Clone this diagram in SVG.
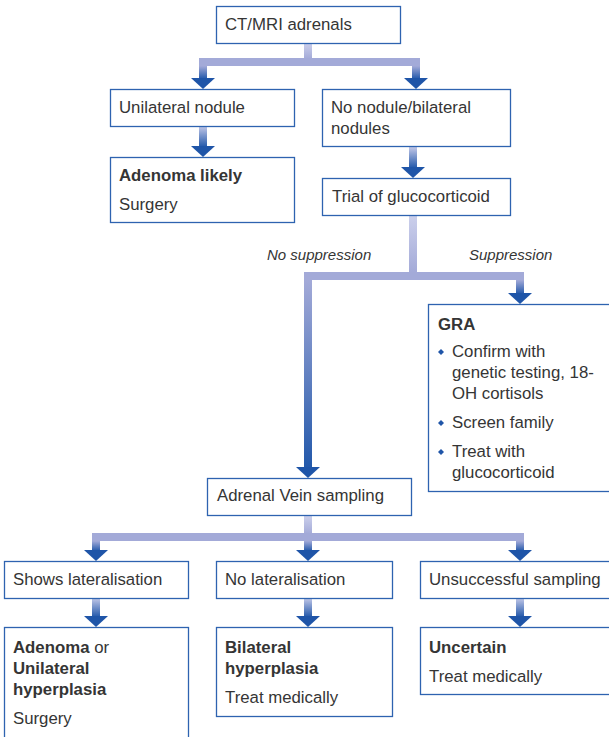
<svg xmlns="http://www.w3.org/2000/svg" width="609" height="737" viewBox="0 0 609 737">
<style>
.box{fill:#fff;stroke:#2e63b0;stroke-width:1.3}
text{font-family:"Liberation Sans",Arial,sans-serif;font-size:16.8px;fill:#353535}
.b{font-weight:bold}
.i{font-style:italic;font-size:15px}
.bar{fill:#a3aad8}
.ah{fill:#1f55a8}
.dia{fill:#1f55a8}
</style>
<defs>
<linearGradient id="gStem" x1="0" y1="0" x2="0" y2="1"><stop offset="0" stop-color="#cbcfeb"/><stop offset="1" stop-color="#a3aad8"/></linearGradient>
<linearGradient id="gDrop" x1="0" y1="0" x2="0" y2="1"><stop offset="0" stop-color="#a3aad8"/><stop offset="1" stop-color="#2258aa"/></linearGradient>
<linearGradient id="gFull" x1="0" y1="0" x2="0" y2="1"><stop offset="0" stop-color="#c3c8e8"/><stop offset="1" stop-color="#2258aa"/></linearGradient>
<path id="ah" d="M-12,-11 L12,-11 L0,0 Z"/>
<path id="dia" d="M0,-3 L3,0 L0,3 L-3,0 Z"/>
</defs>

<g id="connectors">
<!-- CT/MRI split -->
<rect x="304" y="43" width="8" height="16" fill="url(#gStem)"/>
<rect x="199" y="66" width="8" height="13" fill="url(#gDrop)"/>
<rect x="412" y="66" width="8" height="13" fill="url(#gDrop)"/>
<rect class="bar" x="199" y="58" width="221" height="8"/>
<use href="#ah" class="ah" x="203" y="89"/>
<use href="#ah" class="ah" x="416" y="89"/>
<!-- Unilateral -> Adenoma likely -->
<rect x="199" y="126" width="8" height="21" fill="url(#gFull)"/>
<use href="#ah" class="ah" x="203" y="157"/>
<!-- No nodule -> Trial -->
<rect x="409" y="147" width="8" height="21" fill="url(#gFull)"/>
<use href="#ah" class="ah" x="413" y="178"/>
<!-- Trial split -->
<rect x="409" y="216" width="8" height="57" fill="url(#gStem)"/>
<rect x="304" y="280" width="8" height="188" fill="url(#gDrop)"/>
<rect x="516" y="280" width="8" height="14" fill="url(#gDrop)"/>
<rect class="bar" x="304" y="272" width="220" height="8"/>
<use href="#ah" class="ah" x="308" y="478"/>
<use href="#ah" class="ah" x="520" y="304"/>
<text class="i" x="267" y="260">No suppression</text>
<text class="i" x="469" y="260">Suppression</text>
<!-- AVS split -->
<rect x="304" y="516" width="8" height="18" fill="url(#gStem)"/>
<rect x="92" y="541" width="8" height="10" fill="url(#gDrop)"/>
<rect x="304" y="541" width="8" height="10" fill="url(#gDrop)"/>
<rect x="516" y="541" width="8" height="10" fill="url(#gDrop)"/>
<rect class="bar" x="92" y="533" width="432" height="8"/>
<use href="#ah" class="ah" x="96" y="561"/>
<use href="#ah" class="ah" x="308" y="561"/>
<use href="#ah" class="ah" x="520" y="561"/>
<!-- lower -->
<rect x="92" y="598" width="8" height="19" fill="url(#gFull)"/>
<rect x="304" y="598" width="8" height="19" fill="url(#gFull)"/>
<rect x="516" y="598" width="8" height="19" fill="url(#gFull)"/>
<use href="#ah" class="ah" x="96" y="627"/>
<use href="#ah" class="ah" x="308" y="627"/>
<use href="#ah" class="ah" x="520" y="627"/>
</g>

<g id="ct">
<rect class="box" x="216.5" y="6.5" width="184" height="37"/>
<text x="225" y="30">CT/MRI adrenals</text>
</g>
<g id="unilateral">
<rect class="box" x="110.5" y="89.5" width="184" height="37"/>
<text x="119" y="113">Unilateral nodule</text>
</g>
<g id="bilateral">
<rect class="box" x="322.5" y="89.5" width="188" height="57"/>
<text x="331" y="113">No nodule/bilateral</text>
<text x="331" y="134">nodules</text>
</g>
<g id="adenoma-likely">
<rect class="box" x="110.5" y="157.5" width="184" height="65"/>
<text class="b" x="119" y="181">Adenoma likely</text>
<text x="119" y="210">Surgery</text>
</g>
<g id="trial">
<rect class="box" x="322.5" y="178.5" width="188" height="37"/>
<text x="332" y="202">Trial of glucocorticoid</text>
</g>
<g id="gra">
<rect class="box" x="428.5" y="304.5" width="190" height="187"/>
<text class="b" x="438" y="330">GRA</text>
<use href="#dia" class="dia" x="441" y="352"/>
<text x="452" y="357">Confirm with</text>
<text x="452" y="378">genetic testing, 18-</text>
<text x="452" y="399">OH cortisols</text>
<use href="#dia" class="dia" x="441" y="423"/>
<text x="452" y="428">Screen family</text>
<use href="#dia" class="dia" x="441" y="452"/>
<text x="452" y="457">Treat with</text>
<text x="452" y="478">glucocorticoid</text>
</g>
<g id="avs">
<rect class="box" x="207.5" y="478.5" width="204" height="37"/>
<text x="217" y="501">Adrenal Vein sampling</text>
</g>
<g id="shows">
<rect class="box" x="4.5" y="561.5" width="184" height="37"/>
<text x="13" y="585">Shows lateralisation</text>
</g>
<g id="nolat">
<rect class="box" x="216.5" y="561.5" width="176" height="37"/>
<text x="225" y="585">No lateralisation</text>
</g>
<g id="unsuccessful">
<rect class="box" x="420.5" y="561.5" width="192" height="37"/>
<text x="429" y="585">Unsuccessful sampling</text>
</g>
<g id="adenoma-or">
<rect class="box" x="4.5" y="627.5" width="184" height="120"/>
<text x="13" y="653"><tspan class="b">Adenoma</tspan> or</text>
<text class="b" x="13" y="674">Unilateral</text>
<text class="b" x="13" y="695">hyperplasia</text>
<text x="13" y="724">Surgery</text>
</g>
<g id="bilat-hyper">
<rect class="box" x="216.5" y="627.5" width="176" height="89"/>
<text class="b" x="225" y="653">Bilateral</text>
<text class="b" x="225" y="674">hyperplasia</text>
<text x="225" y="703">Treat medically</text>
</g>
<g id="uncertain">
<rect class="box" x="420.5" y="627.5" width="192" height="67"/>
<text class="b" x="429" y="653">Uncertain</text>
<text x="429" y="682">Treat medically</text>
</g>
</svg>
